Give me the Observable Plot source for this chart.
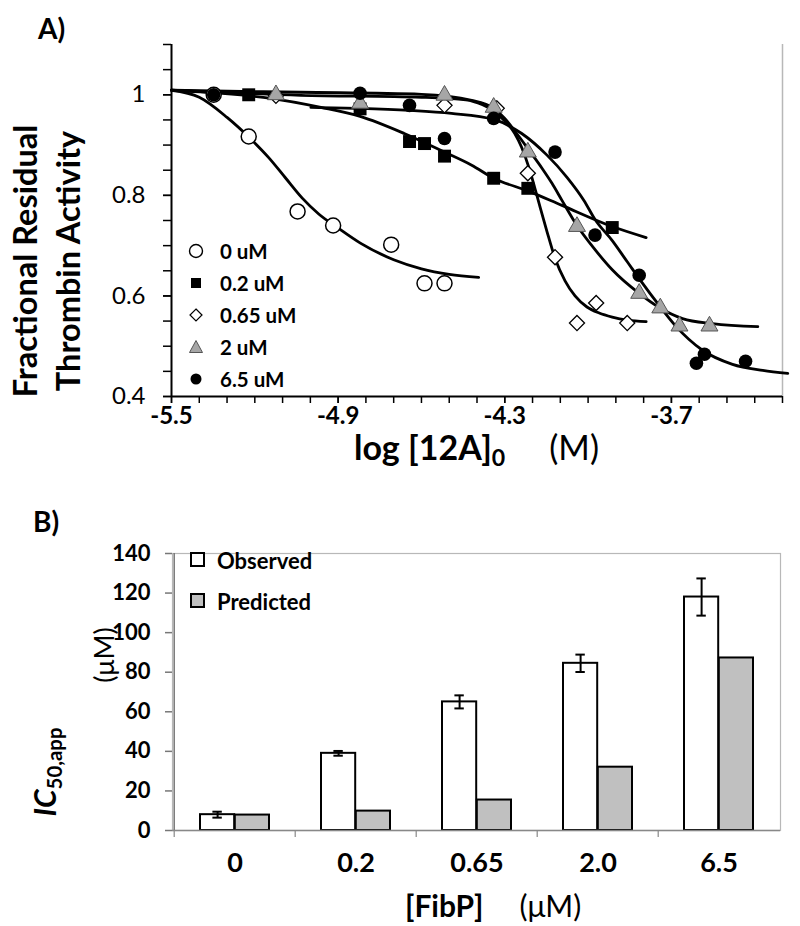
<!DOCTYPE html>
<html><head><meta charset="utf-8">
<script src="https://cdn.jsdelivr.net/npm/d3@7"></script>
<script src="https://cdn.jsdelivr.net/npm/@observablehq/plot@0.6"></script>
<style>
body{margin:0;background:#fff;}
#wrap{position:relative;width:800px;height:926px;font-family:Lato,"Open Sans",sans-serif;color:#000;overflow:hidden;background:#fff}
#wrap svg{position:absolute;left:0}
sub{font-size:0.68em;vertical-align:-0.28em;line-height:0}
</style></head>
<body><div id="wrap"></div>
<script>
// ---------- Panel A data ----------
const seriesNamesA = ["0 uM","0.2 uM","0.65 uM","2 uM","6.5 uM"];
const xTickLabelsA = [-5.5,-4.9,-4.3,-3.7];
const xMinorTicksA = [-5.5,-5.4,-5.3,-5.2,-5.1,-5.0,-4.9,-4.8,-4.7,-4.6,-4.5,-4.4,-4.3,-4.2,-4.1,-4.0,-3.9,-3.8,-3.7,-3.6,-3.5,-3.4,-3.3];
const yTickLabelsA = [0.4,0.6,0.8,1];
const yMinorTicksA = [0.4,0.45,0.5,0.55,0.6,0.65,0.7,0.75,0.8,0.85,0.9,0.95,1.0,1.05,1.1];

// measured points
const s0X = [-5.348,-5.222,-5.046,-4.918,-4.709,-4.589,-4.517];
const s0Y = [1.0,0.917,0.768,0.740,0.702,0.625,0.625];
const s02X = [-5.222,-4.821,-4.643,-4.589,-4.517,-4.340,-4.217,-3.913];
const s02Y = [1.0,0.972,0.907,0.903,0.878,0.834,0.814,0.736];
const s065X = [-5.124,-4.517,-4.329,-4.217,-4.119,-4.040,-3.971,-3.859];
const s065Y = [0.998,0.979,0.973,0.844,0.677,0.546,0.586,0.546];
const s2X = [-5.124,-4.821,-4.517,-4.340,-4.217,-4.040,-3.816,-3.740,-3.671,-3.563];
const s2Y = [1.0,0.983,0.999,0.975,0.886,0.738,0.605,0.576,0.540,0.540];
const s65X = [-5.348,-4.821,-4.643,-4.517,-4.340,-4.119,-3.975,-3.816,-3.610,-3.581,-3.433];
const s65Y = [1.0,1.003,0.979,0.913,0.953,0.886,0.721,0.641,0.466,0.484,0.470];

// fitted curves
const c0X = [-5.5,-5.4,-5.3,-5.22,-5.15,-5.09,-5.03,-4.97,-4.9,-4.82,-4.7,-4.6,-4.5,-4.394];
const c0Y = [1.009,0.995,0.955,0.915,0.875,0.835,0.795,0.763,0.735,0.705,0.672,0.654,0.643,0.637];
const c02X = [-5.5,-5.323,-5.142,-4.962,-4.821,-4.662,-4.517,-4.419,-4.340,-4.213,-4.094,-3.913,-3.791];
const c02Y = [1.009,1.003,0.993,0.975,0.957,0.923,0.886,0.860,0.834,0.808,0.780,0.738,0.716];
const c065X = [-5.5,-5.034,-4.6,-4.44,-4.38,-4.34,-4.30,-4.264,-4.239,-4.213,-4.192,-4.177,-4.148,-4.119,-4.083,-4.047,-4.004,-3.96,-3.913,-3.859,-3.791];
const c065Y = [1.009,0.999,0.995,0.990,0.980,0.968,0.948,0.923,0.895,0.855,0.815,0.785,0.728,0.675,0.630,0.600,0.578,0.566,0.558,0.552,0.549];
const c2X = [-5.5,-5.034,-4.6,-4.419,-4.340,-4.300,-4.257,-4.213,-4.166,-4.130,-4.094,-4.040,-3.975,-3.913,-3.816,-3.744,-3.660,-3.552,-3.389];
const c2Y = [1.009,1.005,1.001,0.989,0.973,0.953,0.923,0.890,0.854,0.824,0.790,0.740,0.692,0.652,0.605,0.577,0.555,0.545,0.539];
const c65X = [-4.998,-4.821,-4.643,-4.492,-4.340,-4.239,-4.148,-4.076,-4.015,-3.975,-3.913,-3.859,-3.805,-3.751,-3.686,-3.588,-3.480,-3.371,-3.281];
const c65Y = [0.975,0.973,0.969,0.963,0.951,0.923,0.880,0.836,0.790,0.752,0.710,0.668,0.626,0.586,0.541,0.492,0.464,0.452,0.446];

// ---------- Panel B data ----------
const fibpLabels = ["0","0.2","0.65","2.0","6.5"];
const observed = [8,39,65,84.5,118];
const observedErr = [1.5,1.2,3.3,4.4,9.4];
const predicted = [7.8,9.8,15.4,32,87.2];
const yTicksB = [0,20,40,60,80,100,120,140];
const legendB = ["Observed","Predicted"];

const wrap = document.getElementById("wrap");
function mk(html, css){const d=document.createElement("div");d.innerHTML=html;d.style.cssText="position:absolute;white-space:nowrap;"+css;wrap.appendChild(d);return d;}

// ---------- Panel A ----------
const styleA = [
 {symbol:"circle", fill:"white", stroke:"black", r:7.5, sw:1.5},
 {symbol:"square", fill:"black", stroke:"none", r:7.3, sw:0},
 {symbol:"diamond2", fill:"white", stroke:"black", r:6.8, sw:1.3},
 {symbol:"triangle", fill:"#a6a6a6", stroke:"#555", r:6.3, sw:1},
 {symbol:"circle", fill:"black", stroke:"none", r:6.8, sw:0}
];
const ptsA = [[s0X,s0Y],[s02X,s02Y],[s065X,s065Y],[s2X,s2Y],[s65X,s65Y]];
const crvA = [[c0X,c0Y],[c02X,c02Y],[c065X,c065Y],[c2X,c2Y],[c65X,c65Y]];
const zip = (xs,ys)=>xs.map((x,i)=>[x,ys[i]]);

const plotA = Plot.plot({
  width:800, height:470,
  marginLeft:171, marginRight:18, marginTop:44, marginBottom:74,
  x:{domain:[-5.5,-3.3], label:null},
  y:{domain:[0.4,1.1], label:null},
  style:{fontFamily:"Lato, 'Open Sans', sans-serif", fontSize:"24px", background:"transparent", overflow:"visible"},
  marks:[
    Plot.ruleX([-3.3],{stroke:"#b8b8b8", strokeWidth:1.5}),
    Plot.axisY({ticks:yMinorTicksA, tickFormat:()=>"", tickSize:8, strokeWidth:1.5, label:null}),
    Plot.axisY({ticks:yTickLabelsA, tickFormat:d=>String(d), tickSize:8, tickPadding:18, strokeWidth:1.5, fontSize:24, label:null}),
    Plot.axisX({ticks:xMinorTicksA, tickFormat:()=>"", tickSize:7, strokeWidth:1.5, label:null}),
    Plot.axisX({ticks:xTickLabelsA, tickFormat:d=>d.toFixed(1), tickSize:7, tickPadding:3, strokeWidth:1.5, fontSize:24, fontWeight:"bold", label:null}),
    Plot.ruleX([-5.5],{strokeWidth:2}),
    Plot.ruleY([0.4],{strokeWidth:2}),
    ...crvA.map(([xs,ys])=>Plot.line(zip(xs,ys),{curve:"monotone-x", stroke:"black", strokeWidth:2.8})),
    ...ptsA.map(([xs,ys],k)=>Plot.dot(zip(xs,ys),{symbol:styleA[k].symbol, r:styleA[k].r, fill:styleA[k].fill, stroke:styleA[k].stroke, strokeWidth:styleA[k].sw}))
  ]
});
plotA.style.top="0px";
wrap.appendChild(plotA);

// Panel A texts
mk("A)","left:38px;top:28px;transform:translateY(-50%);font-size:28px;font-weight:bold;");
mk("Fractional Residual<br>Thrombin Activity","left:46px;top:261px;transform:translate(-50%,-50%) rotate(-90deg);font-size:32.5px;font-weight:bold;line-height:43px;text-align:center;");
mk("log [12A]<sub>0</sub><span style='font-weight:normal;margin-left:44px'>(M)</span>","left:354px;top:446px;transform:translateY(-50%);font-size:34px;font-weight:bold;");

// Legend A
const legIcons = [
 "<circle cx='10' cy='10' r='6.5' fill='white' stroke='black' stroke-width='1.4'/>",
 "<rect x='5' y='5' width='10' height='10' fill='black'/>",
 "<path d='M10 4 L16 10 L10 16 L4 10 Z' fill='white' stroke='black' stroke-width='1.2'/>",
 "<path d='M10 3.5 L16.5 15.5 L3.5 15.5 Z' fill='#a6a6a6' stroke='#555' stroke-width='1'/>",
 "<circle cx='10' cy='10' r='5.5' fill='black'/>"
];
const legY = [251,283,315,347,379];
seriesNamesA.forEach((n,i)=>{
  mk(`<svg width="20" height="20" style="position:static;vertical-align:middle">${legIcons[i]}</svg>`,`left:186px;top:${legY[i]-10}px;line-height:0;`);
  mk(n,`left:220px;top:${legY[i]}px;transform:translateY(-50%);font-size:20.5px;font-weight:bold;`);
});

// ---------- Panel B ----------
const bw = (800-172-20)/5;
const rowsB = fibpLabels.map((c,i)=>({cat:c, obs:observed[i], err:observedErr[i], pred:predicted[i]}));
const inOut = 26, inMid = bw/2;
const obsCenter = (inOut+inMid)/2 - bw/2;
const plotB = Plot.plot({
  width:800, height:400,
  marginLeft:172, marginRight:20, marginTop:53, marginBottom:70,
  x:{type:"band", domain:fibpLabels, padding:0, label:null},
  y:{domain:[0,140], label:null},
  style:{fontFamily:"Lato, 'Open Sans', sans-serif", fontSize:"22px", background:"transparent", overflow:"visible"},
  marks:[
    Plot.frame({stroke:"#b8b8b8", strokeWidth:1.2}),
    Plot.axisY({ticks:yTicksB, tickSize:7, tickPadding:15, stroke:"#777", strokeWidth:1.5, fontSize:22, fontWeight:"bold", label:null}),
    Plot.axisX({ticks:fibpLabels, tickFormat:()=>"", tickSize:7, dx:-bw/2, stroke:"#888", strokeWidth:1.2, label:null}),
    Plot.axisX({ticks:fibpLabels, tickSize:0, tickPadding:22, fontSize:27, fontWeight:"bold", label:null}),
    Plot.barY(rowsB,{x:"cat", y:"obs", fill:"white", stroke:"black", strokeWidth:2, insetLeft:inOut, insetRight:inMid}),
    Plot.barY(rowsB,{x:"cat", y:"pred", fill:"#c0c0c0", stroke:"black", strokeWidth:2, insetLeft:inMid, insetRight:inOut}),
    Plot.ruleX(rowsB,{x:"cat", y1:d=>d.obs-d.err, y2:d=>d.obs+d.err, dx:obsCenter, stroke:"black", strokeWidth:2}),
    Plot.tickY(rowsB,{x:"cat", y:d=>d.obs-d.err, insetLeft:bw/2+obsCenter-5, insetRight:bw/2-obsCenter-5, stroke:"black", strokeWidth:2}),
    Plot.tickY(rowsB,{x:"cat", y:d=>d.obs+d.err, insetLeft:bw/2+obsCenter-5, insetRight:bw/2-obsCenter-5, stroke:"black", strokeWidth:2}),
    Plot.ruleY([0],{stroke:"#888", strokeWidth:1.5}),
    Plot.ruleX([fibpLabels[0]],{dx:-bw/2, stroke:"#777", strokeWidth:1.5})
  ]
});
plotB.style.top="500px";
wrap.appendChild(plotB);

// Panel B texts
mk("B)","left:33px;top:521px;transform:translateY(-50%);font-size:28px;font-weight:bold;");
mk("<i>IC</i><sub style='font-weight:bold'>50,app</sub>","left:44px;top:772px;transform:translate(-50%,-50%) rotate(-90deg);font-size:30px;font-weight:bold;");
mk("(μM)","left:103px;top:655px;transform:translate(-50%,-50%) rotate(-90deg);font-size:27px;");
mk("[FibP]<span style='font-weight:normal;margin-left:36px'>(μM)</span>","left:405px;top:905px;transform:translateY(-50%);font-size:30px;font-weight:bold;");
const legFill = ["white","#c0c0c0"];
const legYB = [560,601];
legendB.forEach((n,i)=>{
  mk(`<svg width="18" height="18" style="vertical-align:middle"><rect x="2" y="2" width="13" height="13" fill="${legFill[i]}" stroke="black" stroke-width="2"/></svg>`,`left:189px;top:${legYB[i]-9}px;line-height:0;`);
  mk(n,`left:217px;top:${legYB[i]}px;transform:translateY(-50%);font-size:22px;font-weight:bold;`);
});
</script>
</body></html>
